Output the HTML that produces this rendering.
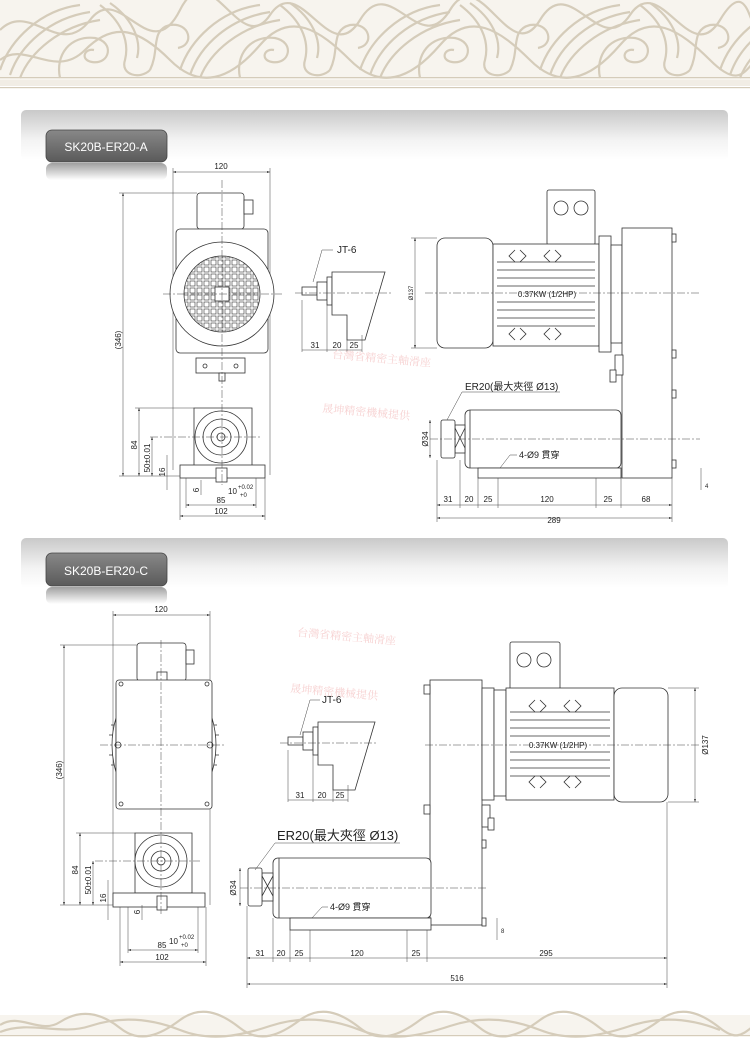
<!DOCTYPE html>
<html><head><meta charset="utf-8"><style>
html,body{margin:0;padding:0;background:#fff;}
svg{display:block;font-family:"Liberation Sans","Noto Sans CJK TC",sans-serif;}
.l{stroke:#333;stroke-width:.8;fill:none}
.f{stroke:#333;stroke-width:.8;fill:#fff}
.d{stroke:#444;stroke-width:.5;fill:none}
.c{stroke:#444;stroke-width:.5;fill:none;stroke-dasharray:8 2 2 2}
.o{stroke:#d5ccba;stroke-width:2.2;fill:none}
text{fill:#222}
.t{font-size:8px}
.wm{fill:#f7d2d2;font-family:"Noto Serif CJK SC",serif;font-size:11px}
</style></head><body>
<svg width="750" height="1061" viewBox="0 0 750 1061" xmlns="http://www.w3.org/2000/svg">
<defs>
<linearGradient id="bar" x1="0" y1="0" x2="0" y2="1"><stop offset="0" stop-color="#c9c9c9"/><stop offset=".6" stop-color="#f3f3f3"/><stop offset="1" stop-color="#fff"/></linearGradient>
<linearGradient id="tag" x1="0" y1="0" x2="0" y2="1"><stop offset="0" stop-color="#888"/><stop offset="1" stop-color="#5a5a5a"/></linearGradient>
<linearGradient id="ref" x1="0" y1="0" x2="0" y2="1"><stop offset="0" stop-color="#777"/><stop offset="1" stop-color="#fff"/></linearGradient>
<pattern id="grid" width="7" height="7" patternUnits="userSpaceOnUse"><rect x="1" y="1" width="5" height="5" fill="none" stroke="#333" stroke-width=".6"/></pattern>
<marker id="a" markerWidth="6" markerHeight="4" refX="6" refY="2" orient="auto-start-reverse"><path d="M0,0L6,2L0,4z" fill="#333"/></marker>
<g id="orn">
<path d="M0,70 C10,40 40,10 80,5 M10,75 C20,45 50,18 90,12 M20,78 C30,52 60,26 100,20"/>
<path d="M60,78 C55,55 70,35 95,38 C115,42 110,65 92,62 C80,60 84,48 94,50"/>
<path d="M100,5 C120,20 130,40 125,60 C120,75 140,80 150,70 M110,3 C132,18 142,40 137,58"/>
<path d="M150,70 C160,50 150,30 170,25 C190,22 195,45 178,48"/>
</g>
</defs>
<!-- top ornament -->
<rect x="0" y="0" width="750" height="80" fill="#f7f4ee"/>
<g class="o" stroke-width="2">
<use href="#orn"/><use href="#orn" x="180"/><use href="#orn" x="360"/><use href="#orn" x="540"/><use href="#orn" x="720"/>
<path d="M0,30 C30,0 60,60 90,20 S150,70 180,10 S240,60 270,15 S330,70 360,20 S420,60 450,10 S510,70 540,20 S600,60 630,15 S690,70 720,20 S750,40 760,30"/>
<path d="M0,60 C25,40 55,80 85,50 S140,30 170,60 S230,80 260,45 S320,30 350,60 S410,80 440,45 S500,30 530,60 S590,80 620,45 S680,30 710,60 S745,70 760,55"/>
</g>
<rect x="0" y="77" width="750" height="1.2" fill="#d5ccba"/>
<rect x="0" y="80" width="750" height="6" fill="#f1ede5"/>
<rect x="0" y="87" width="750" height="1.2" fill="#d5ccba"/>
<!-- bottom ornament -->
<rect x="0" y="1015" width="750" height="22" fill="#f7f4ee"/>
<g class="o" stroke-width="1.3">
<path d="M0,1025 C20,1012 40,1035 60,1022 S100,1012 120,1028 S160,1035 180,1020 S220,1012 240,1028 S280,1035 300,1020 S340,1012 360,1028 S400,1035 420,1020 S460,1012 480,1028 S520,1035 540,1020 S580,1012 600,1028 S640,1035 660,1020 S700,1012 720,1028 S745,1030 760,1022"/>
<path d="M0,1032 C30,1020 60,1036 90,1026 S150,1018 180,1030 S240,1036 270,1026 S330,1018 360,1030 S420,1036 450,1026 S510,1018 540,1030 S600,1036 630,1026 S690,1018 720,1030"/>
</g>
<rect x="0" y="1035" width="750" height="1" fill="#d5ccba"/>

<!-- section bars -->
<rect x="21" y="110" width="707" height="50" rx="5" fill="url(#bar)"/>
<rect x="46" y="130" width="121" height="32" rx="6" fill="url(#tag)" stroke="#444" stroke-width=".8"/>
<rect x="46" y="163" width="121" height="17" rx="6" fill="url(#ref)" opacity=".7"/>
<text x="106" y="151" text-anchor="middle" font-size="12" style="fill:#fff">SK20B-ER20-A</text>
<rect x="21" y="538" width="707" height="50" rx="5" fill="url(#bar)"/>
<rect x="46" y="553" width="121" height="33" rx="6" fill="url(#tag)" stroke="#444" stroke-width=".8"/>
<rect x="46" y="587" width="121" height="17" rx="6" fill="url(#ref)" opacity=".7"/>
<text x="106" y="575" text-anchor="middle" font-size="12" style="fill:#fff">SK20B-ER20-C</text>

<!-- ===== A front view ===== -->
<g>
<line class="d" x1="173" y1="172" x2="270" y2="172" marker-start="url(#a)" marker-end="url(#a)"/>
<text class="t" x="221" y="169" text-anchor="middle">120</text>
<line class="d" x1="173" y1="168" x2="173" y2="470"/><line class="d" x1="270" y1="168" x2="270" y2="475"/>
<rect class="f" x="197" y="193" width="47" height="36" rx="3"/>
<rect class="f" x="244" y="200" width="9" height="14"/>
<rect class="f" x="176" y="229" width="92" height="124" rx="4"/>
<circle class="f" cx="222" cy="294" r="52"/>
<circle cx="222" cy="294" r="38" fill="url(#grid)" stroke="#333" stroke-width=".8"/>
<rect class="f" x="215" y="287" width="14" height="14"/>
<rect class="f" x="196" y="358" width="49" height="15"/>
<circle class="l" cx="205" cy="366" r="2"/><circle class="l" cx="236" cy="366" r="2"/>
<rect class="f" x="219" y="373" width="6" height="8"/>
<path class="f" d="M194,408 H252 V466 H194 Z"/>
<circle class="f" cx="221" cy="437" r="26"/><circle class="l" cx="221" cy="437" r="18"/><circle class="l" cx="221" cy="437" r="10"/><circle class="l" cx="221" cy="437" r="4"/>
<rect class="f" x="180" y="465" width="85" height="13"/>
<rect class="f" x="216" y="468" width="11" height="14"/>
<line class="c" x1="222" y1="180" x2="222" y2="485"/>
<line class="c" x1="163" y1="294" x2="282" y2="294"/>
<line class="c" x1="150" y1="437" x2="260" y2="437"/>
<line class="d" x1="123" y1="193" x2="123" y2="476" marker-start="url(#a)" marker-end="url(#a)"/>
<line class="d" x1="119" y1="193" x2="197" y2="193"/><line class="d" x1="119" y1="476" x2="180" y2="476"/>
<text class="t" transform="translate(121,340) rotate(-90)" text-anchor="middle">(346)</text>
<line class="d" x1="139" y1="408" x2="139" y2="476" marker-start="url(#a)" marker-end="url(#a)"/><line class="d" x1="135" y1="408" x2="194" y2="408"/>
<text class="t" transform="translate(137,445) rotate(-90)" text-anchor="middle">84</text>
<line class="d" x1="152" y1="437" x2="152" y2="476" marker-start="url(#a)" marker-end="url(#a)"/>
<text class="t" transform="translate(150,458) rotate(-90)" text-anchor="middle">50±0.01</text>
<line class="d" x1="167" y1="455" x2="167" y2="490"/>
<text class="t" transform="translate(165,472) rotate(-90)" text-anchor="middle">16</text>
<line class="d" x1="201" y1="480" x2="201" y2="495"/><text class="t" transform="translate(199,490) rotate(-90)" text-anchor="middle">6</text>
<text class="t" x="228" y="494">10</text><text x="238" y="489" font-size="6">+0.02</text><text x="240" y="497" font-size="6">+0</text>
<line class="d" x1="186" y1="505" x2="256" y2="505" marker-start="url(#a)" marker-end="url(#a)"/><text class="t" x="221" y="503" text-anchor="middle">85</text>
<line class="d" x1="180" y1="516" x2="265" y2="516" marker-start="url(#a)" marker-end="url(#a)"/><text class="t" x="221" y="514" text-anchor="middle">102</text>
<line class="d" x1="180" y1="478" x2="180" y2="520"/><line class="d" x1="265" y1="478" x2="265" y2="520"/>
<line class="d" x1="186" y1="478" x2="186" y2="508"/><line class="d" x1="256" y1="478" x2="256" y2="508"/>
</g>

<!-- JT-6 A -->
<g>
<text x="337" y="253" font-size="10">JT-6</text>
<polyline class="d" points="333,250 322,250 313,282"/>
<rect class="f" x="302" y="287" width="15" height="8"/>
<rect class="f" x="317" y="282" width="10" height="18"/>
<rect class="f" x="327" y="277" width="5" height="28"/>
<path class="f" d="M332,272 H385 L365,340 H347 V315 H332 Z"/>
<line class="c" x1="295" y1="293" x2="392" y2="293"/>
<line class="d" x1="302" y1="300" x2="302" y2="352"/><line class="d" x1="327" y1="305" x2="327" y2="352"/><line class="d" x1="347" y1="330" x2="347" y2="352"/><line class="d" x1="362" y1="335" x2="362" y2="352"/>
<line class="d" x1="302" y1="350" x2="362" y2="350"/>
<text class="t" x="315" y="348" text-anchor="middle">31</text><text class="t" x="337" y="348" text-anchor="middle">20</text><text class="t" x="354" y="348" text-anchor="middle">25</text>
</g>

<!-- A side view -->
<g>
<rect class="f" x="547" y="190" width="48" height="55" rx="2"/>
<circle class="l" cx="561" cy="208" r="7"/><circle class="l" cx="581" cy="208" r="7"/>
<rect class="f" x="437" y="238" width="56" height="110" rx="8"/>
<rect class="f" x="493" y="244" width="106" height="102"/>
<g class="l" stroke-width=".5">
<line x1="497" y1="262" x2="595" y2="262"/><line x1="497" y1="270" x2="595" y2="270"/><line x1="497" y1="278" x2="595" y2="278"/><line x1="497" y1="286" x2="595" y2="286"/><line x1="497" y1="302" x2="595" y2="302"/><line x1="497" y1="310" x2="595" y2="310"/><line x1="497" y1="318" x2="595" y2="318"/><line x1="497" y1="326" x2="595" y2="326"/>
<path d="M515,250 l-6,6 l6,6 M520,250 l6,6 l-6,6 M550,250 l-6,6 l6,6 M555,250 l6,6 l-6,6 M515,328 l-6,6 l6,6 M520,328 l6,6 l-6,6 M550,328 l-6,6 l6,6 M555,328 l6,6 l-6,6"/>
</g>
<text x="547" y="297" font-size="8" text-anchor="middle">0.37KW (1/2HP)</text>
<rect class="f" x="599" y="236" width="12" height="116"/>
<rect class="f" x="611" y="245" width="11" height="98"/>
<rect class="f" x="622" y="228" width="50" height="250"/>
<rect class="f" x="615" y="355" width="8" height="20"/><rect class="f" x="610" y="370" width="6" height="12"/>
<rect class="f" x="672" y="234" width="4" height="8"/><rect class="f" x="672" y="350" width="4" height="8"/><rect class="f" x="672" y="390" width="4" height="8"/><rect class="f" x="672" y="460" width="4" height="8"/>
<rect class="f" x="465" y="410" width="156" height="58" rx="5"/>
<line class="l" x1="470" y1="410" x2="470" y2="468"/>
<rect class="f" x="478" y="468" width="143" height="10"/>
<rect class="f" x="455" y="425" width="10" height="28"/>
<rect class="f" x="441" y="420" width="14" height="38" rx="2"/>
<path class="l" d="M455,428 l10,20 M465,428 l-10,20"/>
<line class="c" x1="425" y1="293" x2="700" y2="293"/>
<line class="c" x1="430" y1="439" x2="700" y2="439"/>
<line class="d" x1="415" y1="238" x2="415" y2="348" marker-start="url(#a)" marker-end="url(#a)"/>
<line class="d" x1="411" y1="238" x2="437" y2="238"/><line class="d" x1="411" y1="348" x2="437" y2="348"/>
<text transform="translate(413,293) rotate(-90)" font-size="6" text-anchor="middle">Ø137</text>
<line class="d" x1="430" y1="420" x2="430" y2="458" marker-start="url(#a)" marker-end="url(#a)"/>
<text class="t" transform="translate(428,439) rotate(-90)" text-anchor="middle">Ø34</text>
<text x="465" y="390" font-size="10">ER20(最大夾徑 Ø13)</text>
<polyline class="d" points="560,392 462,392 447,420"/>
<text x="519" y="458" font-size="9">4-Ø9 貫穿</text>
<polyline class="d" points="517,455 510,455 500,468"/>
<line class="d" x1="701" y1="468" x2="701" y2="490"/><text x="705" y="488" font-size="6">4</text>
<g class="d">
<line x1="437" y1="460" x2="437" y2="522"/><line x1="460" y1="460" x2="460" y2="508"/><line x1="478" y1="478" x2="478" y2="508"/><line x1="498" y1="478" x2="498" y2="508"/><line x1="596" y1="478" x2="596" y2="508"/><line x1="621" y1="478" x2="621" y2="508"/><line x1="672" y1="478" x2="672" y2="522"/>
<line x1="437" y1="505" x2="672" y2="505" marker-start="url(#a)" marker-end="url(#a)"/>
<line x1="437" y1="518" x2="672" y2="518" marker-start="url(#a)" marker-end="url(#a)"/>
</g>
<text class="t" x="448" y="502" text-anchor="middle">31</text><text class="t" x="469" y="502" text-anchor="middle">20</text><text class="t" x="488" y="502" text-anchor="middle">25</text><text class="t" x="547" y="502" text-anchor="middle">120</text><text class="t" x="608" y="502" text-anchor="middle">25</text><text class="t" x="646" y="502" text-anchor="middle">68</text><text class="t" x="554" y="523" text-anchor="middle">289</text>
</g>
<text class="wm" x="332" y="358" transform="rotate(5 332 358)">台灣省精密主軸滑座</text>
<text class="wm" x="322" y="412" transform="rotate(5 322 412)">晟坤精密機械提供</text>

<!-- ===== C front view ===== -->
<g>
<line class="d" x1="113" y1="615" x2="210" y2="615" marker-start="url(#a)" marker-end="url(#a)"/>
<text class="t" x="161" y="612" text-anchor="middle">120</text>
<line class="d" x1="113" y1="611" x2="113" y2="905"/><line class="d" x1="210" y1="611" x2="210" y2="905"/>
<rect class="f" x="137" y="643" width="49" height="38" rx="3"/>
<rect class="f" x="186" y="650" width="8" height="14"/>
<rect class="f" x="157" y="672" width="10" height="9"/>
<path class="f" d="M116,718 Q108,745 116,772 Z"/><path class="f" d="M212,718 Q220,745 212,772 Z"/>
<path class="l" d="M114,725 h-3 M113,735 h-4 M113,755 h-4 M114,765 h-3 M214,725 h3 M215,735 h4 M215,755 h4 M214,765 h3"/>
<rect class="f" x="116" y="680" width="96" height="129" rx="3"/>
<circle class="l" cx="121" cy="684" r="2"/><circle class="l" cx="207" cy="684" r="2"/><circle class="l" cx="121" cy="804" r="2"/><circle class="l" cx="207" cy="804" r="2"/>
<circle class="l" cx="118" cy="745" r="3"/><circle class="l" cx="210" cy="745" r="3"/>
<path class="f" d="M135,833 H192 V893 H135 Z"/>
<circle class="f" cx="161" cy="861" r="26"/><circle class="l" cx="161" cy="861" r="18"/><circle class="l" cx="161" cy="861" r="10"/><circle class="l" cx="161" cy="861" r="4"/>
<rect class="f" x="113" y="893" width="92" height="14"/>
<rect class="f" x="157" y="896" width="10" height="14"/>
<line class="c" x1="161" y1="640" x2="161" y2="915"/>
<line class="c" x1="100" y1="745" x2="225" y2="745"/>
<line class="c" x1="95" y1="861" x2="200" y2="861"/>
<line class="d" x1="64" y1="645" x2="64" y2="905" marker-start="url(#a)" marker-end="url(#a)"/>
<line class="d" x1="60" y1="645" x2="137" y2="645"/><line class="d" x1="60" y1="905" x2="113" y2="905"/>
<text class="t" transform="translate(62,770) rotate(-90)" text-anchor="middle">(346)</text>
<line class="d" x1="80" y1="833" x2="80" y2="905" marker-start="url(#a)" marker-end="url(#a)"/><line class="d" x1="76" y1="833" x2="135" y2="833"/>
<text class="t" transform="translate(78,870) rotate(-90)" text-anchor="middle">84</text>
<line class="d" x1="93" y1="861" x2="93" y2="905" marker-start="url(#a)" marker-end="url(#a)"/>
<text class="t" transform="translate(91,880) rotate(-90)" text-anchor="middle">50±0.01</text>
<line class="d" x1="108" y1="880" x2="108" y2="920"/>
<text class="t" transform="translate(106,898) rotate(-90)" text-anchor="middle">16</text>
<line class="d" x1="142" y1="905" x2="142" y2="920"/><text class="t" transform="translate(140,912) rotate(-90)" text-anchor="middle">6</text>
<text class="t" x="169" y="944">10</text><text x="179" y="939" font-size="6">+0.02</text><text x="181" y="947" font-size="6">+0</text>
<line class="d" x1="128" y1="950" x2="198" y2="950" marker-start="url(#a)" marker-end="url(#a)"/><text class="t" x="162" y="948" text-anchor="middle">85</text>
<line class="d" x1="120" y1="962" x2="206" y2="962" marker-start="url(#a)" marker-end="url(#a)"/><text class="t" x="162" y="960" text-anchor="middle">102</text>
<line class="d" x1="120" y1="907" x2="120" y2="966"/><line class="d" x1="206" y1="907" x2="206" y2="966"/>
<line class="d" x1="128" y1="907" x2="128" y2="953"/><line class="d" x1="198" y1="907" x2="198" y2="953"/>
</g>

<!-- JT-6 C -->
<g>
<text x="322" y="703" font-size="10">JT-6</text>
<polyline class="d" points="320,700 310,700 300,735"/>
<rect class="f" x="288" y="737" width="15" height="8"/>
<rect class="f" x="303" y="732" width="10" height="18"/>
<rect class="f" x="313" y="727" width="5" height="28"/>
<path class="f" d="M318,722 H375 L355,790 H333 V765 H318 Z"/>
<line class="c" x1="280" y1="743" x2="378" y2="743"/>
<line class="d" x1="288" y1="750" x2="288" y2="802"/><line class="d" x1="313" y1="755" x2="313" y2="802"/><line class="d" x1="333" y1="780" x2="333" y2="802"/><line class="d" x1="348" y1="785" x2="348" y2="802"/>
<line class="d" x1="288" y1="800" x2="348" y2="800"/>
<text class="t" x="300" y="798" text-anchor="middle">31</text><text class="t" x="322" y="798" text-anchor="middle">20</text><text class="t" x="340" y="798" text-anchor="middle">25</text>
</g>

<!-- C side view -->
<g>
<rect class="f" x="510" y="642" width="50" height="56" rx="2"/>
<circle class="l" cx="524" cy="660" r="7"/><circle class="l" cx="544" cy="660" r="7"/>
<rect class="f" x="430" y="680" width="52" height="245"/>
<rect class="f" x="424" y="685" width="6" height="9"/><rect class="f" x="424" y="805" width="6" height="9"/>
<rect class="f" x="482" y="688" width="12" height="112"/>
<rect class="f" x="494" y="690" width="12" height="106"/>
<rect class="f" x="482" y="805" width="8" height="22"/><rect class="f" x="488" y="818" width="6" height="12"/>
<rect class="f" x="482" y="840" width="4" height="8"/><rect class="f" x="482" y="918" width="4" height="8"/>
<rect class="f" x="506" y="688" width="108" height="112"/>
<g class="l" stroke-width=".5">
<line x1="510" y1="712" x2="610" y2="712"/><line x1="510" y1="720" x2="610" y2="720"/><line x1="510" y1="728" x2="610" y2="728"/><line x1="510" y1="736" x2="610" y2="736"/><line x1="510" y1="752" x2="610" y2="752"/><line x1="510" y1="760" x2="610" y2="760"/><line x1="510" y1="768" x2="610" y2="768"/><line x1="510" y1="776" x2="610" y2="776"/>
<path d="M535,700 l-6,6 l6,6 M540,700 l6,6 l-6,6 M570,700 l-6,6 l6,6 M575,700 l6,6 l-6,6 M535,776 l-6,6 l6,6 M540,776 l6,6 l-6,6 M570,776 l-6,6 l6,6 M575,776 l6,6 l-6,6"/>
</g>
<text x="558" y="748" font-size="8" text-anchor="middle">0.37KW (1/2HP)</text>
<rect class="f" x="614" y="688" width="54" height="114" rx="8"/>
<rect class="f" x="273" y="858" width="158" height="60" rx="5"/>
<line class="l" x1="279" y1="858" x2="279" y2="918"/>
<rect class="f" x="290" y="918" width="141" height="12"/>
<rect class="f" x="262" y="873" width="11" height="28"/>
<rect class="f" x="248" y="868" width="14" height="38" rx="2"/>
<path class="l" d="M262,876 l11,20 M273,876 l-11,20"/>
<line class="c" x1="425" y1="745" x2="700" y2="745"/>
<line class="c" x1="240" y1="888" x2="488" y2="888"/>
<line class="d" x1="695" y1="688" x2="695" y2="802" marker-start="url(#a)" marker-end="url(#a)"/>
<line class="d" x1="668" y1="688" x2="699" y2="688"/><line class="d" x1="668" y1="802" x2="699" y2="802"/>
<text class="t" transform="translate(708,745) rotate(-90)" text-anchor="middle">Ø137</text>
<line class="d" x1="240" y1="868" x2="240" y2="906" marker-start="url(#a)" marker-end="url(#a)"/>
<text class="t" transform="translate(236,888) rotate(-90)" text-anchor="middle">Ø34</text>
<text x="277" y="840" font-size="13">ER20(最大夾徑 Ø13)</text>
<polyline class="d" points="400,843 275,843 255,870"/>
<text x="330" y="910" font-size="9">4-Ø9 貫穿</text>
<polyline class="d" points="328,907 322,907 312,918"/>
<line class="d" x1="497" y1="918" x2="497" y2="940"/><text x="501" y="933" font-size="6">8</text>
<g class="d">
<line x1="247" y1="906" x2="247" y2="988"/><line x1="273" y1="918" x2="273" y2="962"/><line x1="290" y1="930" x2="290" y2="962"/><line x1="310" y1="930" x2="310" y2="962"/><line x1="407" y1="930" x2="407" y2="962"/><line x1="427" y1="930" x2="427" y2="962"/><line x1="667" y1="802" x2="667" y2="988"/>
<line x1="247" y1="958" x2="667" y2="958" marker-start="url(#a)" marker-end="url(#a)"/>
<line x1="247" y1="984" x2="667" y2="984" marker-start="url(#a)" marker-end="url(#a)"/>
</g>
<text class="t" x="260" y="956" text-anchor="middle">31</text><text class="t" x="281" y="956" text-anchor="middle">20</text><text class="t" x="299" y="956" text-anchor="middle">25</text><text class="t" x="357" y="956" text-anchor="middle">120</text><text class="t" x="416" y="956" text-anchor="middle">25</text><text class="t" x="546" y="956" text-anchor="middle">295</text><text class="t" x="457" y="981" text-anchor="middle">516</text>
</g>
<text class="wm" x="297" y="636" transform="rotate(5 297 636)">台灣省精密主軸滑座</text>
<text class="wm" x="290" y="692" transform="rotate(5 290 692)">晟坤精密機械提供</text>
</svg>
</body></html>
